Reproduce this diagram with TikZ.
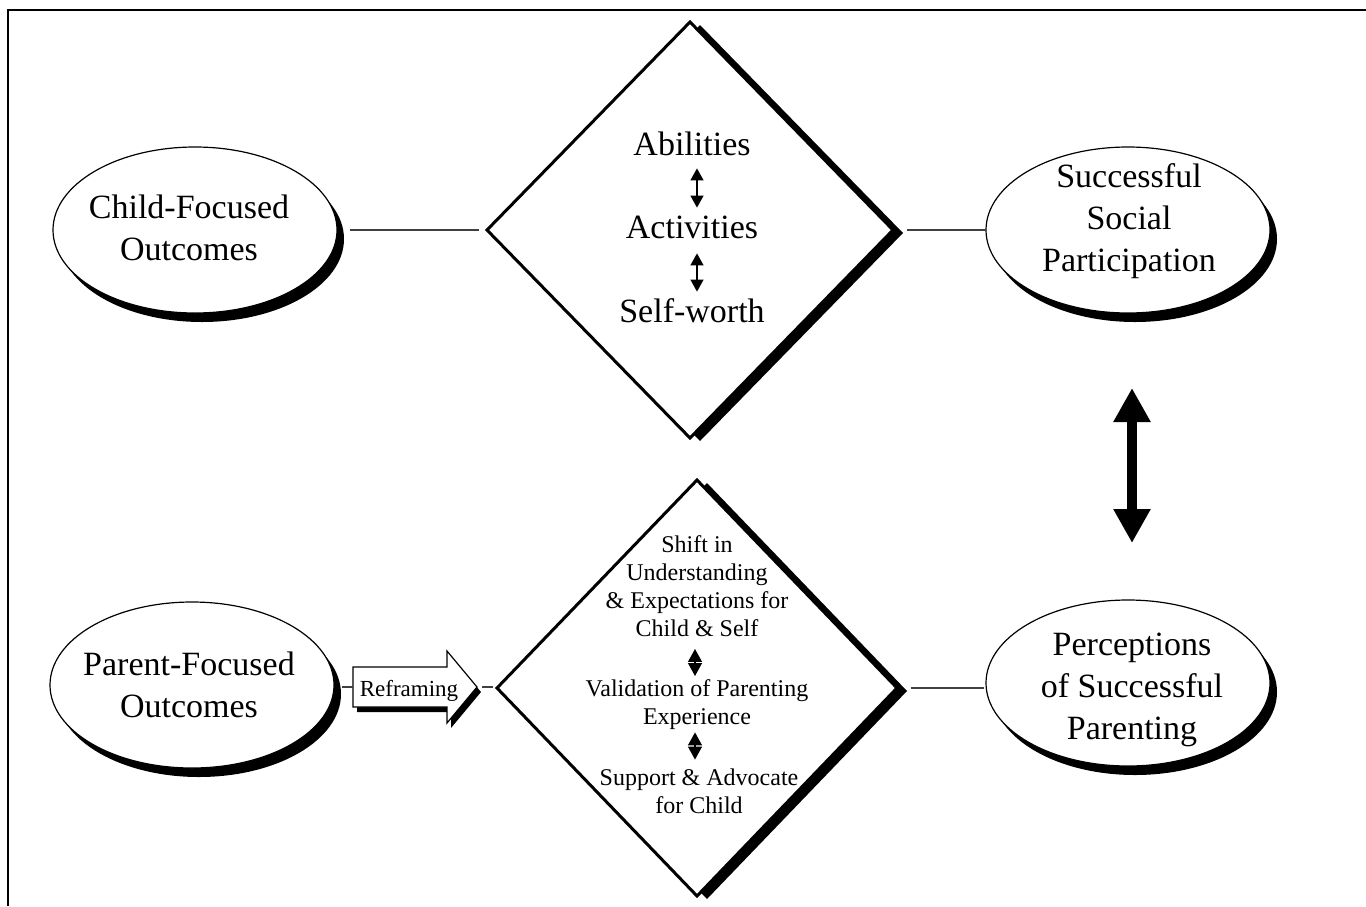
\documentclass[tikz,border=0pt]{standalone}
\usepackage{fontspec}
\setmainfont{Liberation Serif}
\usetikzlibrary{shapes.geometric,arrows.meta,shadows,calc}
\begin{document}
\begin{tikzpicture}[x=0.5pt,y=-0.5pt,
  oval/.style={ellipse, draw, line width=0.6pt, fill=white, inner sep=0pt, outer sep=0pt,
    minimum width=142pt, minimum height=83pt,
    drop shadow={shadow xshift=3.5pt, shadow yshift=-4.5pt, fill=black, opacity=1}},
  dia/.style={diamond, draw, line width=1.5pt, fill=white, inner sep=0pt, outer sep=0pt,
    drop shadow={shadow xshift=5pt, shadow yshift=-1.5pt, fill=black, opacity=1}},
  bigtxt/.style={font=\fontsize{17}{21}\selectfont, inner sep=0pt, align=center},
  linetxt/.style={font=\fontsize{17}{21}\selectfont, inner sep=0pt, anchor=base, text height=12pt, text depth=0pt},
  smalltxt/.style={font=\fontsize{12}{14}\selectfont, inner sep=0pt, align=center},
  conn/.style={line width=0.6pt, black!75},
  smallarr/.style={line width=0.6pt, {Triangle[width=6.5pt,length=6pt]}-{Triangle[width=6.5pt,length=6pt]}},
  smallarrb/.style={line width=0.6pt, {Triangle[width=7pt,length=6.5pt]}-{Triangle[width=7pt,length=6.5pt]}},
  bigarr/.style={line width=5pt, {Triangle[width=17.5pt,length=17pt]}-{Triangle[width=17.5pt,length=17pt]}}
]
\useasboundingbox (0,0) rectangle (1366,906);
% frame
\draw[line width=1pt] (1366,10) -- (8,10) -- (8,906);

% ovals
\node[oval] (child) at (195,230) {};
\node[bigtxt] (childt) at (189,228) {Child-Focused\\Outcomes};
\node[oval] (succ) at (1128,230) {};
\node[bigtxt] (succt) at (1129,221) {Successful\\Social\\Participation};
\node[oval] (parent) at (192,685) {};
\node[bigtxt] (parentt) at (189,685) {Parent-Focused\\Outcomes};
\node[oval] (perc) at (1128,683) {};
\node[bigtxt] (perct) at (1132,690) {Perceptions\\of Successful\\Parenting};

% diamonds
\node[dia, minimum width=203pt, minimum height=208pt] (d1) at (690,230) {};
\node[dia, minimum width=200pt, minimum height=208pt] (d2) at (697,688) {};

% top diamond texts
\node[linetxt] (abil) at (692,155) {Abilities};
\node[linetxt] (activ) at (692,238) {Activities};
\node[linetxt] (self) at (692,322) {Self-worth};
\draw[smallarr, shorten <=6.5pt, shorten >=3pt] ([xshift=2.5pt]abil.south) -- ([xshift=2.5pt]activ.north);
\draw[smallarr, shorten <=7.5pt, shorten >=3pt] ([xshift=2.5pt]activ.south) -- ([xshift=2.5pt]self.north);

% bottom diamond texts
\node[smalltxt] (g1) at (697,586) {Shift in\\Understanding\\\& Expectations for\\Child \& Self};
\node[smalltxt] (g2) at (697,705) {Validation of Parenting\\Experience};
\node[smalltxt] (g3) at (699,791) {Support \& Advocate\\for Child};
\draw[smallarrb, shorten <=6pt, shorten >=1.8pt] ([xshift=-1pt]g1.south) -- ([xshift=-1pt]g2.north);
\draw[smallarrb, shorten <=1pt, shorten >=4.3pt] ([xshift=-1pt]g2.south) -- ([xshift=-1pt]g2.south |- g3.north);

% reframing arrow
\begin{scope}[shift={(4,5)}]
  \fill[black] (353,667) -- (447,667) -- (447,651) -- (477,687) -- (447,723) -- (447,707) -- (353,707) -- cycle;
\end{scope}
\filldraw[fill=white, draw=black, line width=0.6pt] (353,667) -- (447,667) -- (447,651) -- (477,687) -- (447,723) -- (447,707) -- (353,707) -- cycle;
\coordinate (rtail) at (353,687);
\coordinate (rtip) at (477,687);
\node[inner sep=0pt, font=\fontsize{11.5}{13}\selectfont, anchor=base] (refr) at (409,696) {Reframing};

% connectors
\draw[conn, shorten <=6.5pt, shorten >=4pt] (child.east) -- (d1.west);
\draw[conn, shorten <=7pt] (d1.east) -- (succ.west);
\draw[conn, shorten <=4pt] (parent.east |- rtail) -- (rtail);
\draw[conn, shorten <=2.5pt, shorten >=2pt] (rtip) -- (rtip -| d2.west);
\draw[conn, shorten <=7pt, shorten >=1pt] (d2.east) -- (d2.east -| perc.west);

% big double arrow
\draw[bigarr, shorten <=37.5pt, shorten >=28.5pt] ([xshift=2pt]succ.south) -- ([xshift=2pt]perc.north);
\end{tikzpicture}
\end{document}
